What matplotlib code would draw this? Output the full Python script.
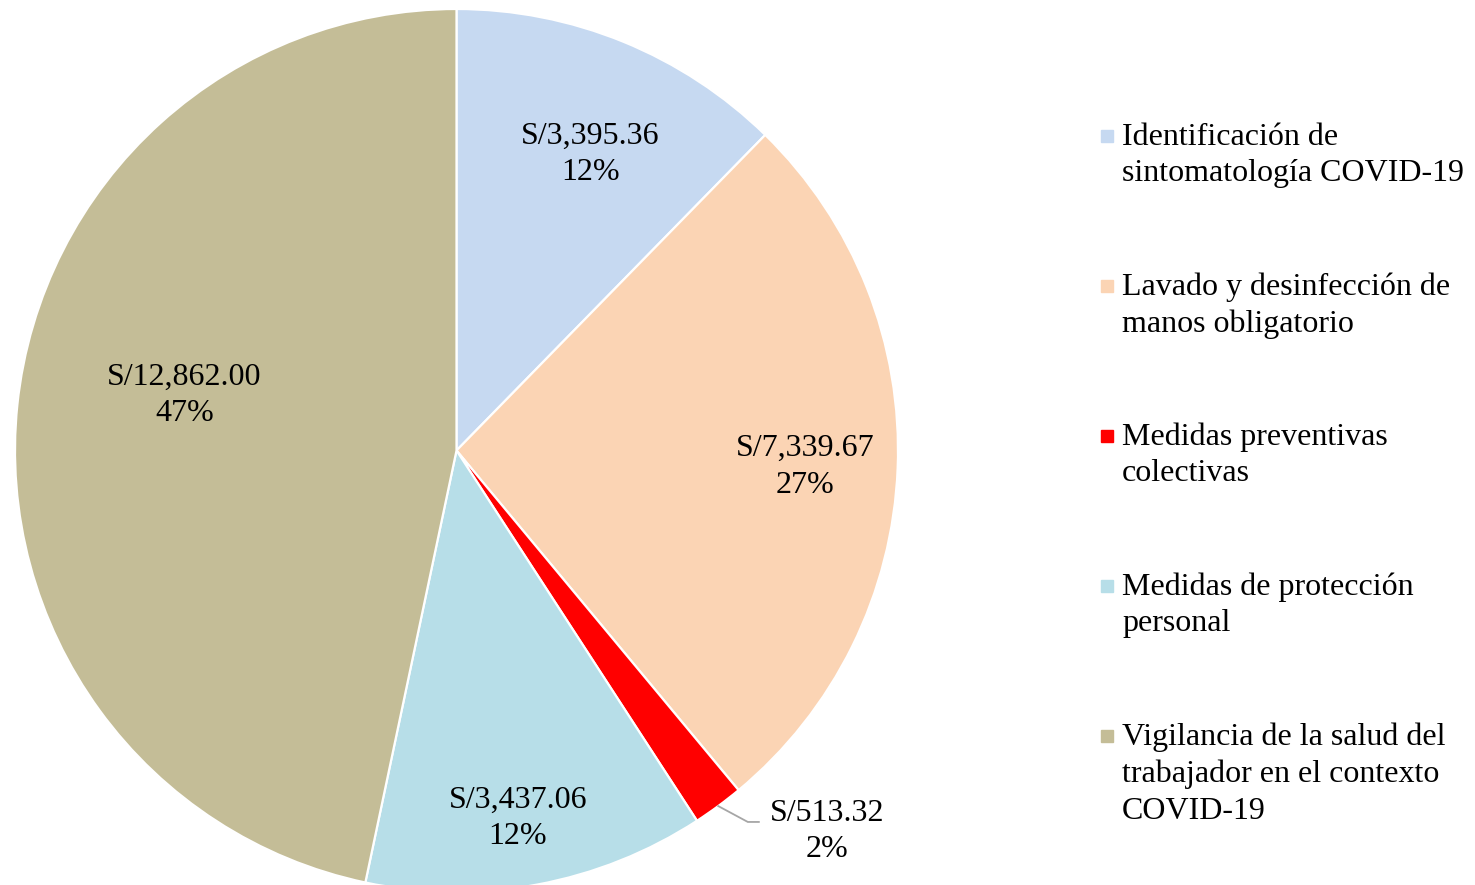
import numpy as np
import matplotlib
matplotlib.use('Agg')
import matplotlib.pyplot as plt

CATEGORIES = ['Identificación de\nsintomatología COVID-19',
              'Lavado y desinfección de\nmanos obligatorio',
              'Medidas preventivas\ncolectivas',
              'Medidas de protección\npersonal',
              'Vigilancia de la salud del\ntrabajador en el contexto\nCOVID-19']
COSTS = [3395.36, 7339.67, 513.32, 3437.06, 12862.00]
COLORS = ['#C6D9F1', '#FBD4B4', '#FF0000', '#B7DEE8', '#C4BD97']

# label placement: radial distance and angle nudge (deg) per slice
LABEL_R = [0.74, 0.79, 1.20, 0.84, 0.63]
LABEL_DA = [-2, 0, 8, -1, -6]

W, H = 1475, 885
CX, CY, R = 456.5, 450.5, 441.5

plt.rcParams['font.family'] = ['Liberation Serif', 'DejaVu Serif']
FS = 23
LS = 1.34

fig = plt.figure(figsize=(W / 100, H / 100), dpi=100)
ax = fig.add_axes([0, 0, 1, 1])

wedges, _ = ax.pie(COSTS, colors=COLORS, startangle=90, counterclock=False,
                   radius=1, wedgeprops=dict(edgecolor='white', linewidth=1.6))
ax.set_aspect('auto')
ax.set_xlim(-CX / R, (W - CX) / R)
ax.set_ylim((CY - H) / R, CY / R)
ax.axis('off')

total = sum(COSTS)
for i, w in enumerate(wedges):
    mid = np.deg2rad((w.theta1 + w.theta2) / 2 + LABEL_DA[i])
    pct = COSTS[i] / total * 100
    txt = 'S/{:,.2f}\n{:.0f}%'.format(COSTS[i], pct)
    x, y = LABEL_R[i] * np.cos(mid), LABEL_R[i] * np.sin(mid)
    ax.text(x, y - 0.005, txt, ha='center', va='center', fontsize=FS,
            linespacing=LS)
    if LABEL_R[i] > 1:
        # leader line from the slice edge to the label
        emid = np.deg2rad((w.theta1 + w.theta2) / 2)
        ex, ey = np.cos(emid), np.sin(emid)
        ky = ey - 0.036
        ax.plot([ex, ex + 0.067, ex + 0.092], [ey, ky, ky],
                color='#A6A6A6', lw=1.3, solid_joinstyle='miter')

# legend, drawn manually so the marker sits on the first line
for i, lab in enumerate(CATEGORIES):
    ytop = 136 + 150 * i
    nlines = lab.count('\n') + 1
    fig.text(1122 / W, 1 - (ytop + 1 + (nlines - 1) * 37 / 2) / H, lab,
             ha='left', va='center', fontsize=FS, linespacing=LS)
    fig.patches.append(plt.Rectangle(((1107 - 6) / W, 1 - (ytop + 6) / H),
                                     12 / W, 12 / H, color=COLORS[i],
                                     transform=fig.transFigure, figure=fig))

fig.savefig('out.png', dpi=100)
